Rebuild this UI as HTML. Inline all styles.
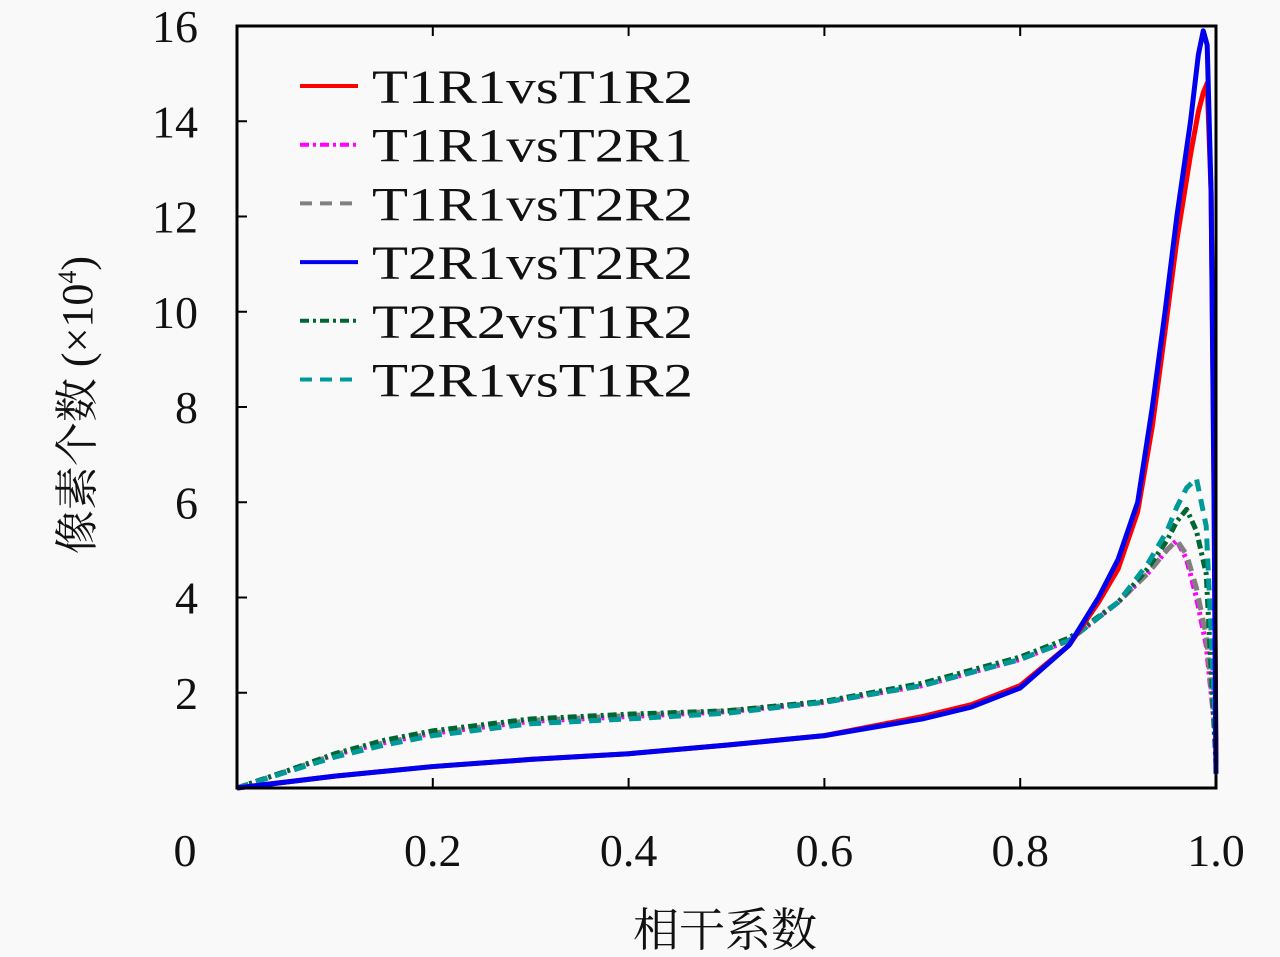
<!DOCTYPE html>
<html><head><meta charset="utf-8"><style>
body{margin:0;background:#f9f9f9;}
svg{display:block;}
text{font-family:"Liberation Serif","DejaVu Serif","Noto Serif CJK SC",serif;fill:#111;}
</style></head><body>
<svg width="1280" height="957">
<g id="marks"></g>
<rect x="237" y="26" width="979" height="762" fill="none" stroke="#000" stroke-width="3"/>
<g id="axes"></g>
<g id="legend"></g>
<text x="725" y="946" text-anchor="middle" font-size="46" font-family="Noto Serif CJK SC, Noto Sans CJK SC, serif">相干系数</text>
<text transform="translate(92,405) rotate(-90)" text-anchor="middle" font-size="44" font-family="Noto Serif CJK SC, Noto Sans CJK SC, serif">像素个数 (×10<tspan font-size="26" dy="-16">4</tspan><tspan dy="16">)</tspan></text>
</svg>
<script>
const xTicks=[0.2,0.4,0.6,0.8,1.0];
const xTickLabels=["0.2","0.4","0.6","0.8","1.0"];
const yTicks=[2,4,6,8,10,12,14,16];
const seriesNames=["T1R1vsT1R2","T1R1vsT2R1","T1R1vsT2R2","T2R1vsT2R2","T2R2vsT1R2","T2R1vsT1R2"];
const xSolid=[0,0.1,0.2,0.3,0.4,0.5,0.6,0.7,0.75,0.8,0.85,0.88,0.9,0.92,0.935,0.948,0.96,0.974,0.982,0.987,0.991,0.995,0.998,1.0];
const sRed=[0,0.25,0.45,0.6,0.72,0.9,1.1,1.5,1.75,2.15,3.0,3.9,4.6,5.8,7.6,9.6,11.5,13.3,14.2,14.6,14.8,12.5,6.5,0.5];
const sBlue=[0,0.25,0.45,0.6,0.72,0.9,1.1,1.45,1.7,2.1,3.0,4.0,4.8,6.0,8.0,10.0,12.0,14.0,15.4,15.9,15.6,12.5,6.0,0.3];
const xDash=[0,0.05,0.1,0.15,0.2,0.3,0.4,0.5,0.6,0.7,0.8,0.85,0.9,0.93,0.95,0.96,0.97,0.98,0.99,1.0];
const sMag=[0,0.35,0.7,0.95,1.15,1.4,1.5,1.6,1.8,2.15,2.7,3.1,3.9,4.5,5.0,5.2,4.8,4.0,3.0,1.0];
const sGray=[0,0.35,0.7,0.95,1.15,1.42,1.52,1.62,1.8,2.15,2.7,3.1,3.9,4.5,5.0,5.2,4.9,4.2,3.2,1.0];
const sDkGreen=[0,0.35,0.72,1.0,1.2,1.45,1.55,1.62,1.82,2.2,2.75,3.15,3.9,4.6,5.2,5.6,5.85,5.4,4.5,0.5];
const sTeal=[0,0.33,0.65,0.9,1.1,1.35,1.45,1.57,1.8,2.15,2.7,3.1,3.9,4.7,5.4,5.9,6.3,6.5,5.5,1.0];
const NS="http://www.w3.org/2000/svg";
const X=v=>237+v*979, Y=v=>788-v*762/16;
function mk(t,a,p){const e=document.createElementNS(NS,t);for(const k in a)e.setAttribute(k,a[k]);p.appendChild(e);return e;}
const marks=document.getElementById('marks'),axes=document.getElementById('axes'),leg=document.getElementById('legend');
const styles=[
 {xs:xSolid,ys:sRed,c:"#ff0000",d:""},
 {xs:xDash,ys:sMag,c:"#ff00ff",d:"9 4 3 4"},
 {xs:xDash,ys:sGray,c:"#808080",d:"12 8"},
 {xs:xSolid,ys:sBlue,c:"#0000ee",d:""},
 {xs:xDash,ys:sDkGreen,c:"#006633",d:"9 4 3 4"},
 {xs:xDash,ys:sTeal,c:"#009999",d:"12 8"}];
[1,2,4,5,0,3].forEach(i=>{const s=styles[i];
 const p=mk('polyline',{points:s.xs.map((x,j)=>X(x)+','+Y(s.ys[j])).join(' '),fill:'none',stroke:s.c,'stroke-width':5,'stroke-dasharray':s.d,'stroke-linejoin':'round'},marks);
 
 });
xTicks.forEach((t,i)=>{
 mk('line',{x1:X(t),x2:X(t),y1:788,y2:778,stroke:'#000','stroke-width':2},axes);
 mk('line',{x1:X(t),x2:X(t),y1:26,y2:36,stroke:'#000','stroke-width':2},axes);
 const tx=mk('text',{x:X(t),y:866,'text-anchor':'middle','font-size':46},axes);tx.textContent=xTickLabels[i];
 
 });
const z=mk('text',{x:185,y:866,'text-anchor':'middle','font-size':46},axes);z.textContent="0";


yTicks.forEach(t=>{
 mk('line',{x1:237,x2:247,y1:Y(t),y2:Y(t),stroke:'#000','stroke-width':2},axes);
 const tx=mk('text',{x:198,y:Y(t)+16,'text-anchor':'end','font-size':46},axes);tx.textContent=t;
 
 });
seriesNames.forEach((n,i)=>{const y=86+i*58.7;const s=styles[i];
 const g=mk('g',{},leg);
 
 
 mk('line',{x1:300,x2:358,y1:y,y2:y,stroke:s.c,'stroke-width':4,'stroke-dasharray':s.d},g);
 const tx=mk('text',{x:372,y:y+17,'font-size':48,textLength:321,lengthAdjust:'spacingAndGlyphs'},g);tx.textContent=n;});
</script>
</body></html>
